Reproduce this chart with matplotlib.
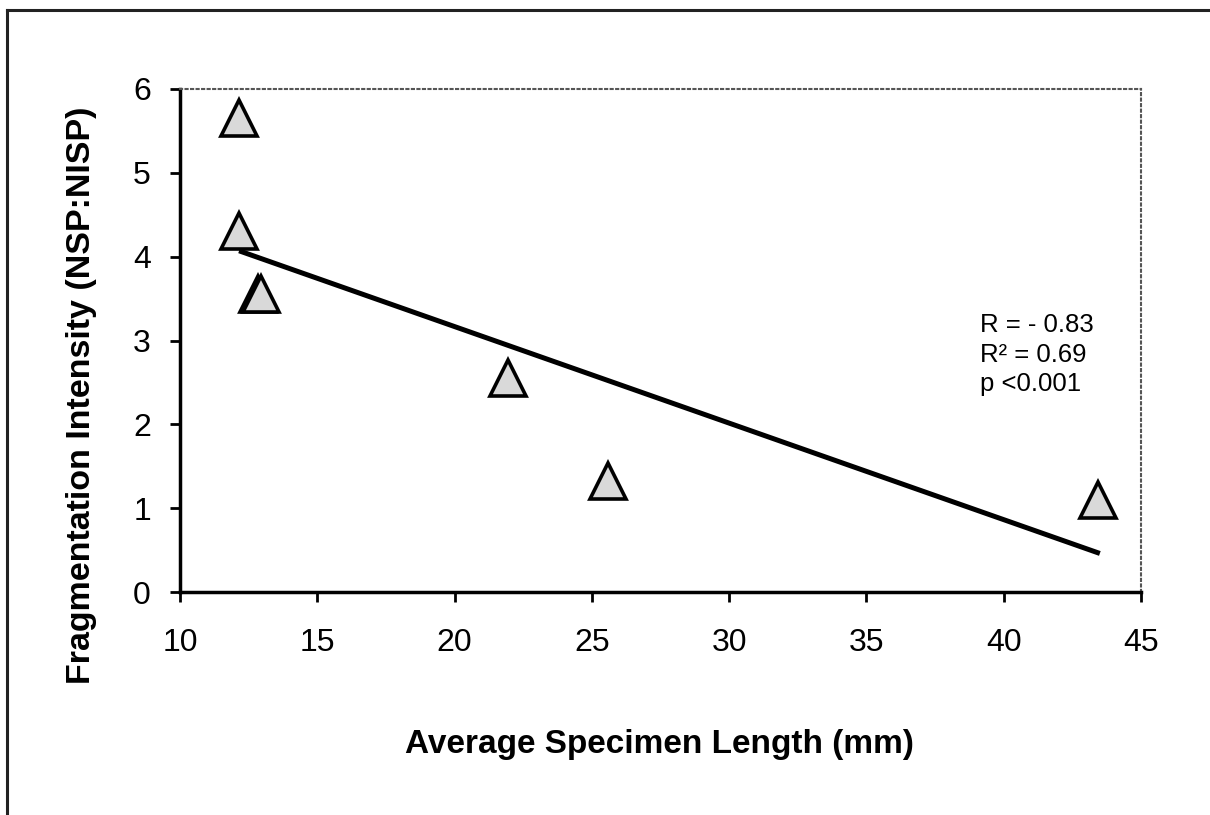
import matplotlib
matplotlib.use("Agg")
import matplotlib.pyplot as plt
from matplotlib.lines import Line2D

plt.rcParams['font.family'] = ['Liberation Sans', 'DejaVu Sans']

# data
spec_len = [12.15, 12.15, 12.85, 12.95, 21.95, 25.6, 43.45]
frag_int = [5.66, 4.31, 3.56, 3.56, 2.55, 1.32, 1.10]
fit_x = [12.15, 43.5]
fit_y = [4.07, 0.46]
stats_text = "R = - 0.83\nR\u00b2 = 0.69\np <0.001"
x_ticks = [10, 15, 20, 25, 30, 35, 40, 45]
y_ticks = [0, 1, 2, 3, 4, 5, 6]

fig = plt.figure(figsize=(12.1, 8.15), dpi=100)
ax = fig.add_axes([0.1488, 0.2736, 0.7942, 0.6172])

ax.plot(fit_x, fit_y, color='black', lw=3.6, solid_capstyle='butt', zorder=3)
ax.plot(spec_len, frag_int, ls='none', marker='^', ms=26, mfc='#d9d9d9',
        mec='black', mew=2.6, zorder=4)

ax.set_xlim(10, 45)
ax.set_ylim(0, 6)
ax.set_xticks(x_ticks)
ax.set_yticks(y_ticks)
ax.tick_params(direction='out', length=7, width=2, labelsize=23)
ax.tick_params(axis='x', pad=19)
ax.tick_params(axis='y', pad=14)

for s in ['left', 'bottom']:
    ax.spines[s].set_linewidth(2.5)
for s in ['top', 'right']:
    ax.spines[s].set_linestyle(':')
    ax.spines[s].set_color('#555555')
    ax.spines[s].set_linewidth(1.5)

ax.text(39.15, 3.33, stats_text, fontsize=18.5, va='top', ha='left', linespacing=1.3)

fig.text(0.545, 0.086, "Average Specimen Length (mm)", fontsize=24,
         fontweight='bold', ha='center', va='center')
fig.text(0.067, 0.515, "Fragmentation Intensity (NSP:NISP)", fontsize=24.5,
         fontweight='bold', ha='center', va='center', rotation=90)

# scanned frame: top and left edges only
fig.add_artist(Line2D([0.006, 1.0], [0.988, 0.988], color='#222222', lw=2.2))
fig.add_artist(Line2D([0.006, 0.006], [0.0, 0.988], color='#222222', lw=2.2))

fig.savefig("out.png", dpi=100)
